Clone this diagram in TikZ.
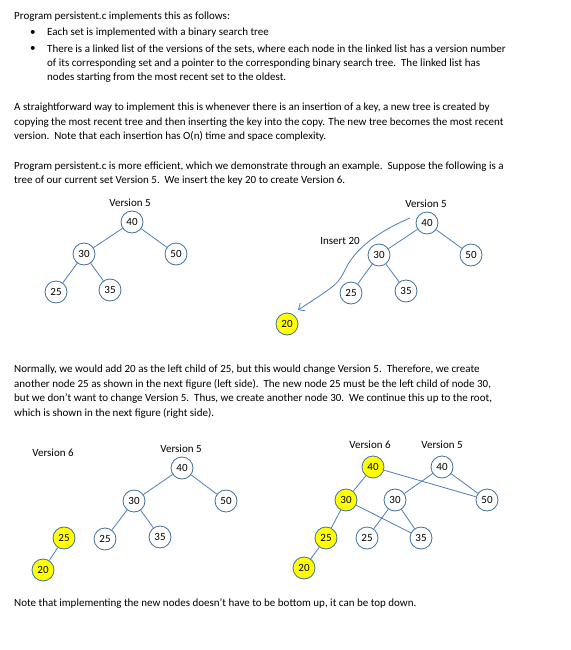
\documentclass[tikz,border=0pt]{standalone}
\usepackage{fontspec}
\setmainfont{Carlito}
\usetikzlibrary{arrows.meta}
\definecolor{ringblue}{RGB}{65,113,156}
\definecolor{lineblue}{RGB}{74,126,187}
\definecolor{newyellow}{RGB}{255,255,0}
\begin{document}
\begin{tikzpicture}[x=1pt,y=-1pt,
  txt/.style={anchor=base west, inner sep=0pt, align=left, font=\fontsize{11}{14.4}\selectfont},
  lbl/.style={inner sep=0pt, font=\fontsize{11}{13}\selectfont},
  key/.style={draw=ringblue, circle, fill=white, minimum size=22pt, inner sep=0pt, line width=0.8pt, font=\fontsize{11}{13}\selectfont},
  newkey/.style={key, fill=newyellow},
  edge/.style={draw=lineblue, line width=0.8pt}]
\useasboundingbox (0,0) rectangle (570,650);
% text above the first trees (a node with several lines sits on its last line)
\node[txt] (p1) at (14,20) {Program persistent.c implements this as follows:};
\node[txt] (bul1) at (30,36) {\textbullet};
\node[txt] (item1) at (47,36) {Each set is implemented with a binary search tree};
\node[txt] (bul2) at (30,52) {\textbullet};
\node[txt] (item2) at (47,81) {There is a linked list of the versions of the sets, where each node in the linked list has a version number\\of its corresponding set and a pointer to the corresponding binary search tree.\ \ The linked list has\\nodes starting from the most recent set to the oldest.};
\node[txt] (p2) at (14,139.5) {A straightforward way to implement this is whenever there is an insertion of a key, a new tree is created by\\copying the most recent tree and then inserting the key into the copy. The new tree becomes the most recent\\version.\ \ Note that each insertion has O(n) time and space complexity.};
\node[txt] (p3) at (14,183.5) {Program persistent.c is more efficient, which we demonstrate through an example.\ \ Suppose the following is a\\tree of our current set Version 5.\ \ We insert the key 20 to create Version 6.};

% tree of version 5
\node[lbl] (v5a) at (130,203) {Version 5};
\node[key] (a40) at (132,222) {40};
\node[key] (a30) at (84,254) {30};
\node[key] (a50) at (176,254) {50};
\node[key] (a25) at (56,292) {25};
\node[key] (a35) at (110,290) {35};
\path[edge] (a40) -- (a30);
\path[edge] (a40) -- (a50);
\path[edge] (a30) -- (a25);
\path[edge] (a30) -- (a35);

% inserting 20
\node[lbl] (v5b) at (426,204) {Version 5};
\node[key] (b40) at (427,223) {40};
\node[key] (b30) at (379,255) {30};
\node[key] (b50) at (471,255) {50};
\node[key] (b25) at (351,293) {25};
\node[key] (b35) at (406,291) {35};
\node[newkey] (b20) at (287,324) {20};
\node[lbl] (ins) at (340,241) {Insert 20};
\path[edge] (b40) -- (b30);
\path[edge] (b40) -- (b50);
\path[edge] (b30) -- (b25);
\path[edge] (b30) -- (b35);
\coordinate (insfrom) at (410,218);
\coordinate (insto) at (298,310);
\draw[lineblue, line width=0.8pt, -{Straight Barb[length=5pt,width=9pt]}] (insfrom) .. controls (375,233) and (355,250) .. (346,268) .. controls (338,284) .. (insto);

\node[txt] (p4) at (14,416) {Normally, we would add 20 as the left child of 25, but this would change Version 5.\ \ Therefore, we create\\another node 25 as shown in the next figure (left side).\ \ The new node 25 must be the left child of node 30,\\but we don’t want to change Version 5.\ \ Thus, we create another node 30.\ \ We continue this up to the root,\\which is shown in the next figure (right side).};

% left side: new 25
\node[lbl] (v6c) at (53,453) {Version 6};
\node[lbl] (v5c) at (181,449) {Version 5};
\node[key] (c40) at (182,468) {40};
\node[key] (c30) at (134,501) {30};
\node[key] (c50) at (226,501) {50};
\node[key] (c25) at (105,539) {25};
\node[key] (c35) at (160,537) {35};
\node[newkey] (n25) at (64,538) {25};
\node[newkey] (n20) at (43,570) {20};
\path[edge] (c40) -- (c30);
\path[edge] (c40) -- (c50);
\path[edge] (c30) -- (c25);
\path[edge] (c30) -- (c35);
\path[edge] (n25) -- (n20);

% right side: up to the root
\node[lbl] (v6d) at (370,445) {Version 6};
\node[lbl] (v5d) at (442,445) {Version 5};
\node[key] (d40) at (442,467) {40};
\node[key] (d30) at (395,500) {30};
\node[key] (d50) at (487,500) {50};
\node[key] (d25) at (367,538) {25};
\node[key] (d35) at (421,538) {35};
\node[newkey] (m40) at (373,467) {40};
\node[newkey] (m30) at (346,500) {30};
\node[newkey] (m25) at (326,538) {25};
\node[newkey] (m20) at (304,568) {20};
\path[edge] (d40) -- (d30);
\path[edge] (d40) -- (d50);
\path[edge] (d30) -- (d25);
\path[edge] (d30) -- (d35);
\path[edge] (m40) -- (m30);
\path[edge] (m40) -- (d50);
\path[edge] (m30) -- (m25);
\path[edge] (m30) -- (d35);
\path[edge] (m25) -- (m20);

\node[txt] (p5) at (14,606) {Note that implementing the new nodes doesn’t have to be bottom up, it can be top down.};
\end{tikzpicture}
\end{document}
